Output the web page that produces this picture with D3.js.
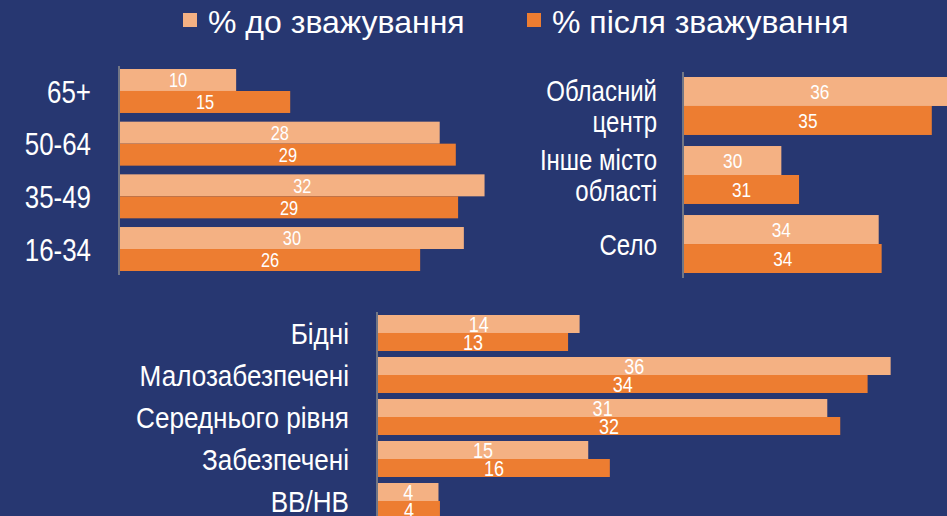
<!DOCTYPE html>
<html><head><meta charset="utf-8">
<script src="https://cdn.jsdelivr.net/npm/d3@7"></script>
<style>
html,body{margin:0;padding:0;background:#273771;overflow:hidden;}
svg{display:block;}
text{fill:#fff;font-family:"Liberation Sans",Arial,sans-serif;}
</style></head><body>
<svg id="chart" width="947" height="516"></svg>
<script>
const seriesNames = ["% до зважування", "% після зважування"];
const seriesColors = ["#F4B183", "#ED7D31"];

const ageCategories = ["65+", "50-64", "35-49", "16-34"];
const ageBefore = [10.1, 27.8, 31.7, 29.9];
const ageAfter = [14.8, 29.2, 29.4, 26.1];

const settlementCategories = ["Обласний\nцентр", "Інше місто\nобласті", "Село"];
const settlementBefore = [36.2, 30.3, 33.6];
const settlementAfter = [35.4, 30.9, 33.7];

const incomeCategories = ["Бідні", "Малозабезпечені", "Середнього рівня", "Забезпечені", "ВВ/НВ"];
const incomeBefore = [14.0, 35.6, 31.2, 14.6, 4.2];
const incomeAfter = [13.2, 34.0, 32.1, 16.1, 4.3];

const svg = d3.select("#chart");
const fmt = d3.format(".0f");

// condensed text: horizontally squeezed group
function narrow(parent, x, y, sx) {
  return parent.append("g").attr("transform", `translate(${x},${y}) scale(${sx},1)`);
}

function drawPanel(cfg) {
  const g = svg.append("g");
  const x = d3.scaleLinear().domain(cfg.xDomain).range(cfg.xRange);
  const y = d3.scaleBand().domain(cfg.cats).range(cfg.yRange).paddingInner(cfg.padInner).paddingOuter(0);
  const inner = d3.scaleBand().domain([0, 1]).range([0, y.bandwidth()]);
  const series = [cfg.before, cfg.after];
  const x0 = cfg.xRange[0];

  cfg.cats.forEach((c, ci) => {
    series.forEach((vals, si) => {
      const v = vals[ci];
      const by = y(c) + inner(si);
      g.append("rect")
        .attr("x", x0).attr("y", by)
        .attr("width", x(v) - x0).attr("height", inner.bandwidth())
        .attr("fill", seriesColors[si]);
    });
  });
  cfg.cats.forEach((c, ci) => {
    series.forEach((vals, si) => {
      const v = vals[ci];
      const by = y(c) + inner(si);
      narrow(g, (x0 + x(v)) / 2, by + inner.bandwidth() / 2, 0.82)
        .append("text")
        .attr("dy", "0.37em")
        .attr("text-anchor", "middle")
        .attr("font-size", cfg.valueSize)
        .text(fmt(v));
    });
  });

  // vertical axis line
  g.append("line")
    .attr("x1", x0 - 1).attr("x2", x0 - 1)
    .attr("y1", cfg.axisY[0]).attr("y2", cfg.axisY[1])
    .attr("stroke", "#8C8C8C").attr("stroke-width", 1.5);

  // category labels
  cfg.cats.forEach(c => {
    const lines = c.split("\n");
    const cy = y(c) + y.bandwidth() / 2;
    const t = narrow(g, x0 - 1 - cfg.labelPad, cy, cfg.labelScale)
      .append("text")
      .attr("text-anchor", "end")
      .attr("font-size", cfg.labelSize);
    const n = lines.length;
    lines.forEach((ln, li) => {
      t.append("tspan")
        .attr("x", 0)
        .attr("y", (li - (n - 1) / 2) * cfg.lineHeight)
        .attr("dy", "0.36em")
        .text(ln);
    });
  });
}

drawPanel({
  cats: ageCategories, before: ageBefore, after: ageAfter,
  xDomain: [0, 40], xRange: [120, 580],
  yRange: [69, 271], padInner: 0.165,
  axisY: [66, 275], labelSize: 32, labelScale: 0.81, valueSize: 20, labelPad: 28, lineHeight: 31
});

drawPanel({
  cats: settlementCategories, before: settlementBefore, after: settlementAfter,
  xDomain: [27, 37], xRange: [684, 979],
  yRange: [77, 273], padInner: 0.16,
  axisY: [72, 278], labelSize: 30, labelScale: 0.80, valueSize: 21, labelPad: 26, lineHeight: 31
});

drawPanel({
  cats: incomeCategories, before: incomeBefore, after: incomeAfter,
  xDomain: [0, 40], xRange: [378, 954],
  yRange: [315, 519], padInner: 0.143,
  axisY: [312, 520], labelSize: 30, labelScale: 0.87, valueSize: 22, labelPad: 28, lineHeight: 31
});

// legend
const legendX = [183, 527];
seriesNames.forEach((name, i) => {
  svg.append("rect").attr("x", legendX[i]).attr("y", 13).attr("width", 14).attr("height", 14)
    .attr("fill", seriesColors[i]);
  svg.append("text")
    .attr("x", legendX[i] + 25).attr("y", 33)
    .attr("font-size", 32)
    .text(name);
});
</script>
</body></html>
